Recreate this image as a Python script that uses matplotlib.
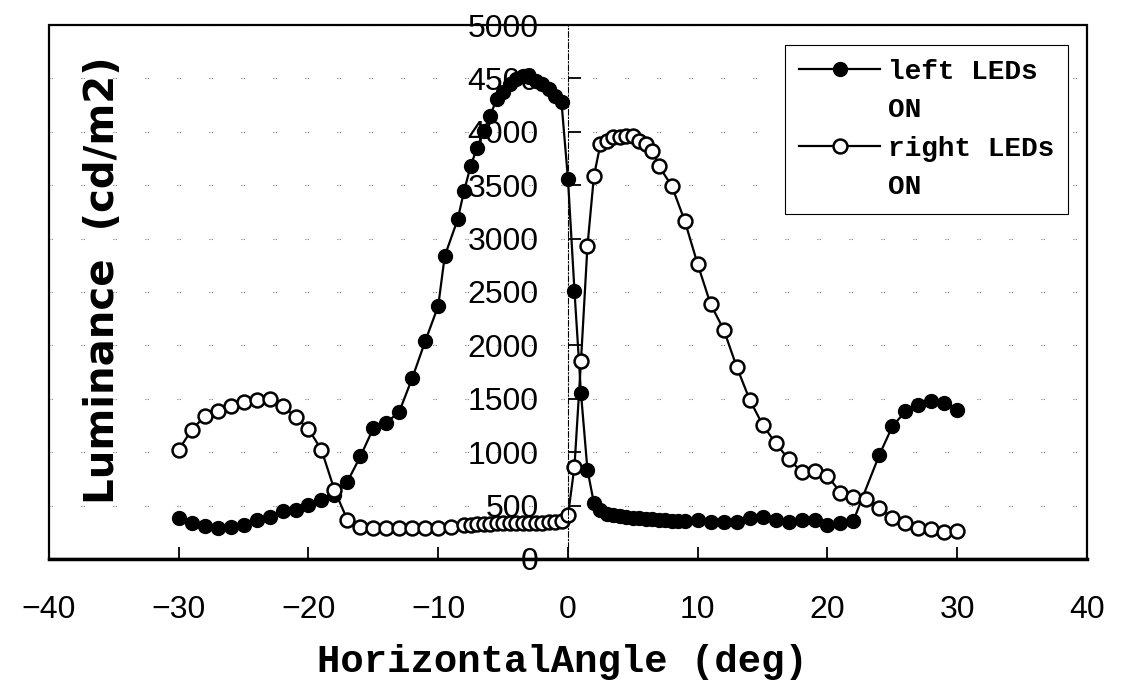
import matplotlib
matplotlib.use("Agg")
from matplotlib import pyplot as plt
from matplotlib.lines import Line2D
from matplotlib.patches import Rectangle

plt.rcParams['font.family'] = 'Liberation Sans'

# left LEDs ON (filled markers)
left_angle = [-30, -29, -28, -27, -26, -25, -24, -23, -22, -21, -20, -19, -18, -17, -16,
              -15, -14, -13, -12, -11, -10, -9.5, -8.5, -8, -7.5, -7, -6.5, -6, -5.5, -5,
              -4.5, -4, -3.5, -3, -2.5, -2, -1.5, -1, -0.5, 0, 0.5, 1, 1.5, 2, 2.5, 3,
              3.5, 4, 4.5, 5, 5.5, 6, 6.5, 7, 7.5, 8, 8.5, 9, 10, 11, 12, 13, 14, 15, 16,
              17, 18, 19, 20, 21, 22, 24, 25, 26, 27, 28, 29, 30]
left_lum = [380, 335, 305, 290, 300, 320, 365, 395, 445, 460, 505, 555, 600, 725, 960,
            1225, 1275, 1380, 1695, 2040, 2370, 2836, 3180, 3450, 3680, 3853, 4008, 4150, 4306, 4370,
            4447, 4493, 4524, 4509, 4478, 4447, 4400, 4337, 4275, 3555, 2510, 1555, 835, 522, 460, 425,
            410, 400, 392, 385, 380, 375, 370, 366, 362, 360, 358, 355, 366, 350, 350, 350, 382, 397, 366,
            350, 366, 366, 319, 335, 360, 976, 1241, 1382, 1445, 1476, 1461, 1398]

# right LEDs ON (open markers)
right_angle = [-30, -29, -28, -27, -26, -25, -24, -23, -22, -21, -20, -19, -18, -17, -16,
               -15, -14, -13, -12, -11, -10, -9, -8, -7.5, -7, -6.5, -6, -5.5, -5, -4.5,
               -4, -3.5, -3, -2.5, -2, -1.5, -1, -0.5, 0, 0.5, 1, 1.5, 2, 2.5, 3, 3.5,
               4, 4.5, 5, 5.5, 6, 6.5, 7, 8, 9, 10, 11, 12, 13, 14, 15, 16, 17, 18, 19,
               20, 21, 22, 23, 24, 25, 26, 27, 28, 29, 30]
right_lum = [1022, 1210, 1335, 1385, 1430, 1466, 1492, 1500, 1435, 1330, 1217, 1022, 647, 366, 303,
             288, 290, 290, 290, 290, 292, 295, 315, 320, 325, 330, 332, 335, 335, 335,
             338, 340, 340, 340, 340, 342, 345, 360, 410, 866, 1851, 2930, 3587, 3884, 3915, 3947,
             3947, 3962, 3962, 3915, 3884, 3821, 3680, 3493, 3165, 2758, 2383, 2148, 1800, 1492, 1257, 1085, 935, 819, 828,
             779, 622, 584, 560, 476, 382, 335, 288, 281, 256, 263]

x_ticks = [-40, -30, -20, -10, 0, 10, 20, 30, 40]
y_ticks = [0, 500, 1000, 1500, 2000, 2500, 3000, 3500, 4000, 4500, 5000]

fig = plt.figure(figsize=(11.31, 6.89), dpi=100)
ax = fig.add_axes([0.0433, 0.1887, 0.9178, 0.7750])

h_left, = ax.plot(left_angle, left_lum, '-o', color='black', lw=1.6, ms=10,
                  mfc='black', mec='black')
h_right, = ax.plot(right_angle, right_lum, '-o', color='black', lw=1.6, ms=10,
                   mfc='white', mec='black', mew=1.8)

ax.set_xlim(-40, 40)
ax.set_ylim(0, 5000)
ax.set_xticks(x_ticks)
ax.set_yticks(y_ticks)

# y axis crosses at x = 0, plot area has its own frame
ax.spines['left'].set_position(('data', 0))
ax.spines['left'].set_linestyle((0, (5, 2, 1, 2)))
ax.spines['left'].set_linewidth(0.8)
ax.spines['top'].set_visible(False)
ax.spines['right'].set_visible(False)
ax.spines['bottom'].set_linewidth(2.5)
ax.add_patch(Rectangle((0, 0), 1, 1, transform=ax.transAxes, fill=False,
                       lw=1.6, ec='black', zorder=5, clip_on=False))

ax.tick_params(axis='x', direction='in', length=9, width=1.3, pad=26, labelsize=23)
ax.tick_params(axis='y', direction='in', length=9, width=1.3, pad=21, labelsize=23)

ax.yaxis.grid(True, linestyle=(0, (0.7, 1.4, 0.7, 26)), color='#444444', lw=0.8)

ax.set_xlabel('HorizontalAngle (deg)', fontfamily='Liberation Mono', fontweight='bold',
              fontsize=28, va='center')
ax.xaxis.set_label_coords(0.495, -0.193)
ax.set_ylabel('Luminance  (cd/m2)', fontfamily='DejaVu Sans', fontweight='bold',
              fontsize=29, va='center')
ax.yaxis.set_label_coords(0.052, 0.522)

blank = Line2D([], [], linestyle='none')
leg = ax.legend([h_left, blank, h_right, blank], ['left LEDs', 'ON', 'right LEDs', 'ON'],
                loc='upper right', bbox_to_anchor=(0.982, 0.9625), borderaxespad=0,
                fancybox=False, edgecolor='black', framealpha=1,
                prop={'family': 'Liberation Mono', 'weight': 'bold', 'size': 20},
                handlelength=2.9, handletextpad=0.3, labelspacing=0.45, borderpad=0.5)
leg.get_frame().set_linewidth(0.8)

plt.savefig("out.png", dpi=100, facecolor='white')
plt.close()
